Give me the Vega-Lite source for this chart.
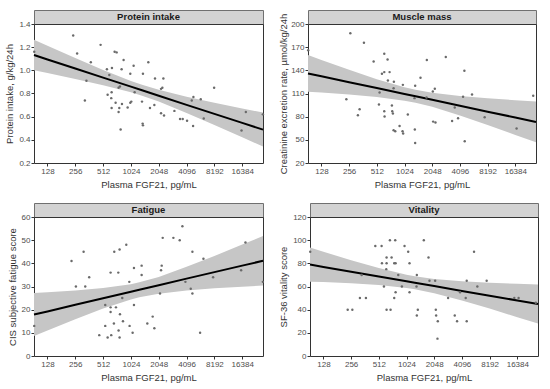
{
  "$schema": "https://vega.github.io/schema/vega-lite/v6.json",
  "padding": {"left": 4, "top": 9, "right": 6, "bottom": 4},
  "background": "white",
  "config": {
    "font": "Liberation Sans",
    "view": {"stroke": "#333333", "strokeWidth": 1},
    "axis": {"grid": false, "domain": false, "tickColor": "#333333", "tickSize": 3, "labelColor": "#4d4d4d", "labelFontSize": 8, "labelPadding": 1, "labelOverlap": false, "labelFlush": false, "titleFontSize": 9.5, "titleFontWeight": "normal", "titleColor": "#333333"},
    "axisX": {"titlePadding": 4},
    "axisY": {"titlePadding": 4}
  },
  "datasets": {
    "protein": [
      {"fgf21": 92, "v": 1.16}, {"fgf21": 243, "v": 1.30}, {"fgf21": 268, "v": 1.145}, {"fgf21": 377, "v": 1.07}, {"fgf21": 338, "v": 0.91}, {"fgf21": 325, "v": 0.74}, {"fgf21": 481, "v": 1.22}, {"fgf21": 682, "v": 1.16}, {"fgf21": 717, "v": 1.155}, {"fgf21": 853, "v": 1.09}, {"fgf21": 563, "v": 1.01}, {"fgf21": 638, "v": 1.02}, {"fgf21": 597, "v": 0.96}, {"fgf21": 812, "v": 1.01}, {"fgf21": 1095, "v": 1.04}, {"fgf21": 1008, "v": 0.97}, {"fgf21": 1382, "v": 0.97}, {"fgf21": 1579, "v": 1.07}, {"fgf21": 1866, "v": 0.93}, {"fgf21": 2298, "v": 0.93}, {"fgf21": 573, "v": 0.79}, {"fgf21": 633, "v": 0.81}, {"fgf21": 627, "v": 0.76}, {"fgf21": 633, "v": 0.675}, {"fgf21": 699, "v": 0.72}, {"fgf21": 753, "v": 0.85}, {"fgf21": 779, "v": 0.86}, {"fgf21": 766, "v": 0.675}, {"fgf21": 819, "v": 0.71}, {"fgf21": 753, "v": 0.64}, {"fgf21": 792, "v": 0.49}, {"fgf21": 943, "v": 0.68}, {"fgf21": 1008, "v": 0.72}, {"fgf21": 1033, "v": 0.73}, {"fgf21": 1123, "v": 0.81}, {"fgf21": 1349, "v": 0.73}, {"fgf21": 1371, "v": 0.54}, {"fgf21": 1382, "v": 0.525}, {"fgf21": 1646, "v": 0.675}, {"fgf21": 1835, "v": 0.70}, {"fgf21": 2168, "v": 0.84}, {"fgf21": 2241, "v": 0.85}, {"fgf21": 2168, "v": 0.63}, {"fgf21": 2336, "v": 0.61}, {"fgf21": 3024, "v": 0.65}, {"fgf21": 3483, "v": 0.58}, {"fgf21": 3722, "v": 0.58}, {"fgf21": 4147, "v": 0.565}, {"fgf21": 4660, "v": 0.74}, {"fgf21": 4858, "v": 0.77}, {"fgf21": 4817, "v": 0.52}, {"fgf21": 5832, "v": 0.75}, {"fgf21": 6287, "v": 0.585}, {"fgf21": 8136, "v": 0.85}, {"fgf21": 16112, "v": 0.48}, {"fgf21": 17940, "v": 0.64}, {"fgf21": 27420, "v": 0.62}
    ],
    "protein_fit": [
      {"fgf21": 91.5, "fit": 1.132, "lo": 1.000, "hi": 1.264}, {"fgf21": 128, "fit": 1.094, "lo": 0.976, "hi": 1.212}, {"fgf21": 256, "fit": 1.016, "lo": 0.926, "hi": 1.106}, {"fgf21": 512, "fit": 0.937, "lo": 0.872, "hi": 1.002}, {"fgf21": 1024, "fit": 0.859, "lo": 0.810, "hi": 0.908}, {"fgf21": 1351, "fit": 0.828, "lo": 0.781, "hi": 0.876}, {"fgf21": 2048, "fit": 0.781, "lo": 0.730, "hi": 0.832}, {"fgf21": 4096, "fit": 0.702, "lo": 0.632, "hi": 0.772}, {"fgf21": 8192, "fit": 0.624, "lo": 0.528, "hi": 0.720}, {"fgf21": 16384, "fit": 0.546, "lo": 0.422, "hi": 0.670}, {"fgf21": 27500, "fit": 0.488, "lo": 0.342, "hi": 0.635}
    ],
    "muscle": [
      {"fgf21": 92, "v": 166}, {"fgf21": 264, "v": 187.9}, {"fgf21": 371, "v": 175.8}, {"fgf21": 239, "v": 102.6}, {"fgf21": 333, "v": 89.7}, {"fgf21": 319, "v": 81.9}, {"fgf21": 473, "v": 151.5}, {"fgf21": 617, "v": 161.5}, {"fgf21": 670, "v": 154.1}, {"fgf21": 582, "v": 135.5}, {"fgf21": 617, "v": 137.7}, {"fgf21": 705, "v": 137.7}, {"fgf21": 676, "v": 126.9}, {"fgf21": 785, "v": 125.1}, {"fgf21": 549, "v": 111.3}, {"fgf21": 540, "v": 95.7}, {"fgf21": 747, "v": 94.4}, {"fgf21": 617, "v": 87.1}, {"fgf21": 622, "v": 80.1}, {"fgf21": 753, "v": 87.1}, {"fgf21": 766, "v": 84.0}, {"fgf21": 779, "v": 116.9}, {"fgf21": 779, "v": 62.4}, {"fgf21": 812, "v": 61.1}, {"fgf21": 905, "v": 68.0}, {"fgf21": 983, "v": 121.2}, {"fgf21": 975, "v": 61.1}, {"fgf21": 990, "v": 58.1}, {"fgf21": 1113, "v": 82.7}, {"fgf21": 1337, "v": 120.0}, {"fgf21": 1315, "v": 104.0}, {"fgf21": 1326, "v": 63.3}, {"fgf21": 1337, "v": 46.0}, {"fgf21": 1528, "v": 130.3}, {"fgf21": 1790, "v": 153.3}, {"fgf21": 1776, "v": 104.8}, {"fgf21": 2080, "v": 112.6}, {"fgf21": 2186, "v": 116.1}, {"fgf21": 2097, "v": 73.6}, {"fgf21": 2222, "v": 72.4}, {"fgf21": 2876, "v": 157.2}, {"fgf21": 3368, "v": 74.5}, {"fgf21": 3600, "v": 91.8}, {"fgf21": 3912, "v": 77.9}, {"fgf21": 4432, "v": 105.7}, {"fgf21": 4582, "v": 139.4}, {"fgf21": 4621, "v": 48.1}, {"fgf21": 5549, "v": 108.7}, {"fgf21": 7611, "v": 79.2}, {"fgf21": 16920, "v": 64.6}, {"fgf21": 25650, "v": 107.0}
    ],
    "muscle_fit": [
      {"fgf21": 91.5, "fit": 136.0, "lo": 112.3, "hi": 159.7}, {"fgf21": 128, "fit": 132.3, "lo": 111.2, "hi": 153.5}, {"fgf21": 256, "fit": 124.7, "lo": 108.6, "hi": 140.7}, {"fgf21": 512, "fit": 117.0, "lo": 105.5, "hi": 128.6}, {"fgf21": 1024, "fit": 109.4, "lo": 100.7, "hi": 118.0}, {"fgf21": 1351, "fit": 106.4, "lo": 98.0, "hi": 114.8}, {"fgf21": 2048, "fit": 101.8, "lo": 92.7, "hi": 110.9}, {"fgf21": 4096, "fit": 94.1, "lo": 81.6, "hi": 106.7}, {"fgf21": 8192, "fit": 86.5, "lo": 69.2, "hi": 103.7}, {"fgf21": 16384, "fit": 78.9, "lo": 56.4, "hi": 101.3}, {"fgf21": 27500, "fit": 73.2, "lo": 46.8, "hi": 99.7}
    ],
    "fatigue": [
      {"fgf21": 92, "v": 13}, {"fgf21": 233, "v": 41}, {"fgf21": 260, "v": 30}, {"fgf21": 315, "v": 45}, {"fgf21": 328, "v": 30}, {"fgf21": 362, "v": 34}, {"fgf21": 465, "v": 9}, {"fgf21": 540, "v": 22}, {"fgf21": 540, "v": 13}, {"fgf21": 573, "v": 8}, {"fgf21": 617, "v": 36}, {"fgf21": 617, "v": 21}, {"fgf21": 617, "v": 19}, {"fgf21": 627, "v": 9}, {"fgf21": 676, "v": 45}, {"fgf21": 670, "v": 14}, {"fgf21": 705, "v": 21}, {"fgf21": 747, "v": 36}, {"fgf21": 772, "v": 46}, {"fgf21": 779, "v": 18}, {"fgf21": 753, "v": 11}, {"fgf21": 772, "v": 8}, {"fgf21": 825, "v": 25}, {"fgf21": 840, "v": 15}, {"fgf21": 912, "v": 48}, {"fgf21": 983, "v": 32}, {"fgf21": 990, "v": 13}, {"fgf21": 1068, "v": 10}, {"fgf21": 1104, "v": 38}, {"fgf21": 1104, "v": 22}, {"fgf21": 1337, "v": 39}, {"fgf21": 1337, "v": 35}, {"fgf21": 1540, "v": 14}, {"fgf21": 1761, "v": 17}, {"fgf21": 1835, "v": 12}, {"fgf21": 2114, "v": 27}, {"fgf21": 2204, "v": 39}, {"fgf21": 2168, "v": 37}, {"fgf21": 2260, "v": 51}, {"fgf21": 2949, "v": 51}, {"fgf21": 3453, "v": 50}, {"fgf21": 3691, "v": 56}, {"fgf21": 3979, "v": 32}, {"fgf21": 4545, "v": 29}, {"fgf21": 4737, "v": 27}, {"fgf21": 4737, "v": 45}, {"fgf21": 5737, "v": 10}, {"fgf21": 6234, "v": 42}, {"fgf21": 7936, "v": 34}, {"fgf21": 15950, "v": 37}, {"fgf21": 17770, "v": 49}, {"fgf21": 27420, "v": 32}
    ],
    "fatigue_fit": [
      {"fgf21": 91.5, "fit": 17.9, "lo": 8.6, "hi": 27.2}, {"fgf21": 128, "fit": 19.25, "lo": 11.0, "hi": 27.5}, {"fgf21": 256, "fit": 22.1, "lo": 15.9, "hi": 28.3}, {"fgf21": 512, "fit": 24.9, "lo": 20.5, "hi": 29.3}, {"fgf21": 1024, "fit": 27.7, "lo": 24.4, "hi": 31.0}, {"fgf21": 1261, "fit": 28.6, "lo": 25.4, "hi": 31.8}, {"fgf21": 2048, "fit": 30.5, "lo": 26.9, "hi": 34.1}, {"fgf21": 4096, "fit": 33.4, "lo": 28.3, "hi": 38.5}, {"fgf21": 8192, "fit": 36.2, "lo": 29.2, "hi": 43.2}, {"fgf21": 16384, "fit": 39.0, "lo": 29.9, "hi": 48.1}, {"fgf21": 27500, "fit": 41.1, "lo": 30.4, "hi": 51.8}
    ],
    "vitality": [
      {"fgf21": 92, "v": 90}, {"fgf21": 235, "v": 40}, {"fgf21": 264, "v": 40}, {"fgf21": 319, "v": 50}, {"fgf21": 333, "v": 70}, {"fgf21": 371, "v": 50}, {"fgf21": 469, "v": 95}, {"fgf21": 549, "v": 95}, {"fgf21": 554, "v": 80}, {"fgf21": 582, "v": 60}, {"fgf21": 622, "v": 85}, {"fgf21": 622, "v": 80}, {"fgf21": 617, "v": 75}, {"fgf21": 622, "v": 40}, {"fgf21": 676, "v": 100}, {"fgf21": 687, "v": 40}, {"fgf21": 705, "v": 85}, {"fgf21": 753, "v": 80}, {"fgf21": 779, "v": 80}, {"fgf21": 772, "v": 100}, {"fgf21": 753, "v": 50}, {"fgf21": 779, "v": 55}, {"fgf21": 833, "v": 70}, {"fgf21": 912, "v": 60}, {"fgf21": 975, "v": 95}, {"fgf21": 1068, "v": 90}, {"fgf21": 1104, "v": 80}, {"fgf21": 1104, "v": 55}, {"fgf21": 1326, "v": 70}, {"fgf21": 1315, "v": 60}, {"fgf21": 1359, "v": 40}, {"fgf21": 1326, "v": 35}, {"fgf21": 1579, "v": 100}, {"fgf21": 1776, "v": 85}, {"fgf21": 1820, "v": 65}, {"fgf21": 2097, "v": 65}, {"fgf21": 2132, "v": 40}, {"fgf21": 2150, "v": 35}, {"fgf21": 2241, "v": 30}, {"fgf21": 2222, "v": 15}, {"fgf21": 2900, "v": 50}, {"fgf21": 3426, "v": 35}, {"fgf21": 3629, "v": 30}, {"fgf21": 3912, "v": 55}, {"fgf21": 4507, "v": 50}, {"fgf21": 4621, "v": 65}, {"fgf21": 4621, "v": 30}, {"fgf21": 5549, "v": 90}, {"fgf21": 6029, "v": 60}, {"fgf21": 7611, "v": 65}, {"fgf21": 15190, "v": 50}, {"fgf21": 16920, "v": 50}, {"fgf21": 26060, "v": 46}
    ],
    "vitality_fit": [
      {"fgf21": 91.5, "fit": 78.9, "lo": 64.2, "hi": 93.6}, {"fgf21": 128, "fit": 76.9, "lo": 63.8, "hi": 90.0}, {"fgf21": 256, "fit": 72.8, "lo": 62.8, "hi": 82.7}, {"fgf21": 512, "fit": 68.6, "lo": 61.4, "hi": 75.9}, {"fgf21": 1024, "fit": 64.5, "lo": 58.8, "hi": 70.2}, {"fgf21": 1261, "fit": 63.3, "lo": 57.7, "hi": 68.9}, {"fgf21": 2048, "fit": 60.4, "lo": 54.2, "hi": 66.5}, {"fgf21": 4096, "fit": 56.2, "lo": 47.9, "hi": 64.5}, {"fgf21": 8192, "fit": 52.1, "lo": 40.9, "hi": 63.3}, {"fgf21": 16384, "fit": 47.9, "lo": 33.5, "hi": 62.3}, {"fgf21": 27500, "fit": 44.9, "lo": 28.0, "hi": 61.8}
    ]
  },
  "vconcat": [
    {
      "hconcat": [
        {
          "vconcat": [
            {"width": 229, "height": 14, "data": {"values": [{"t": "Protein intake"}]}, "mark": {"type": "text", "fontWeight": "bold", "fontSize": 9.5, "color": "#1a1a1a"}, "encoding": {"text": {"field": "t"}}, "view": {"fill": "#d3d3d3", "stroke": "#707070"}},
            {"width": 229, "height": 139, "layer": [
              {"data": {"name": "protein_fit"}, "mark": {"type": "area", "color": "#c6c6c6", "opacity": 1}, "encoding": {"x": {"field": "fgf21", "type": "quantitative", "title": "Plasma FGF21, pg/mL", "scale": {"type": "log", "base": 2, "domain": [91.5, 27500], "nice": false}, "axis": {"values": [128, 256, 512, 1024, 2048, 4096, 8192, 16384], "format": "d", "labelOverlap": false}}, "y": {"field": "lo", "type": "quantitative", "title": "Protein intake, g/kg/24h", "scale": {"domain": [0.2, 1.4], "nice": false}, "axis": {"values": [0.2, 0.4, 0.6, 0.8, 1.0, 1.2, 1.4], "format": ".1f", "labelOverlap": false}}, "y2": {"field": "hi"}}},
              {"data": {"name": "protein_fit"}, "mark": {"type": "line", "color": "#000000", "strokeWidth": 2}, "encoding": {"x": {"field": "fgf21", "type": "quantitative", "title": "Plasma FGF21, pg/mL", "scale": {"type": "log", "base": 2, "domain": [91.5, 27500], "nice": false}, "axis": {"values": [128, 256, 512, 1024, 2048, 4096, 8192, 16384], "format": "d", "labelOverlap": false}}, "y": {"field": "fit", "type": "quantitative", "title": "Protein intake, g/kg/24h", "scale": {"domain": [0.2, 1.4], "nice": false}, "axis": {"values": [0.2, 0.4, 0.6, 0.8, 1.0, 1.2, 1.4], "format": ".1f", "labelOverlap": false}}}},
              {"data": {"name": "protein"}, "mark": {"type": "circle", "size": 6, "color": "#6a6a6a", "opacity": 1}, "encoding": {"x": {"field": "fgf21", "type": "quantitative", "title": "Plasma FGF21, pg/mL", "scale": {"type": "log", "base": 2, "domain": [91.5, 27500], "nice": false}, "axis": {"values": [128, 256, 512, 1024, 2048, 4096, 8192, 16384], "format": "d", "labelOverlap": false}}, "y": {"field": "v", "type": "quantitative", "title": "Protein intake, g/kg/24h", "scale": {"domain": [0.2, 1.4], "nice": false}, "axis": {"values": [0.2, 0.4, 0.6, 0.8, 1.0, 1.2, 1.4], "format": ".1f", "labelOverlap": false}}}}
            ]}
          ],
          "spacing": 0, "bounds": "flush"
        },
        {
          "vconcat": [
            {"width": 228, "height": 14, "data": {"values": [{"t": "Muscle mass"}]}, "mark": {"type": "text", "fontWeight": "bold", "fontSize": 9.5, "color": "#1a1a1a"}, "encoding": {"text": {"field": "t"}}, "view": {"fill": "#d3d3d3", "stroke": "#707070"}},
            {"width": 228, "height": 139, "layer": [
              {"data": {"name": "muscle_fit"}, "mark": {"type": "area", "color": "#c6c6c6", "opacity": 1}, "encoding": {"x": {"field": "fgf21", "type": "quantitative", "title": "Plasma FGF21, pg/mL", "scale": {"type": "log", "base": 2, "domain": [91.5, 27500], "nice": false}, "axis": {"values": [128, 256, 512, 1024, 2048, 4096, 8192, 16384], "format": "d", "labelOverlap": false}}, "y": {"field": "lo", "type": "quantitative", "title": "Creatinine excretion rate, µmol/kg/24h", "scale": {"domain": [20, 200], "nice": false}, "axis": {"values": [20, 50, 80, 110, 140, 170, 200], "titlePadding": 2, "labelOverlap": false}}, "y2": {"field": "hi"}}},
              {"data": {"name": "muscle_fit"}, "mark": {"type": "line", "color": "#000000", "strokeWidth": 2}, "encoding": {"x": {"field": "fgf21", "type": "quantitative", "title": "Plasma FGF21, pg/mL", "scale": {"type": "log", "base": 2, "domain": [91.5, 27500], "nice": false}, "axis": {"values": [128, 256, 512, 1024, 2048, 4096, 8192, 16384], "format": "d", "labelOverlap": false}}, "y": {"field": "fit", "type": "quantitative", "title": "Creatinine excretion rate, µmol/kg/24h", "scale": {"domain": [20, 200], "nice": false}, "axis": {"values": [20, 50, 80, 110, 140, 170, 200], "titlePadding": 2, "labelOverlap": false}}}},
              {"data": {"name": "muscle"}, "mark": {"type": "circle", "size": 6, "color": "#6a6a6a", "opacity": 1}, "encoding": {"x": {"field": "fgf21", "type": "quantitative", "title": "Plasma FGF21, pg/mL", "scale": {"type": "log", "base": 2, "domain": [91.5, 27500], "nice": false}, "axis": {"values": [128, 256, 512, 1024, 2048, 4096, 8192, 16384], "format": "d", "labelOverlap": false}}, "y": {"field": "v", "type": "quantitative", "title": "Creatinine excretion rate, µmol/kg/24h", "scale": {"domain": [20, 200], "nice": false}, "axis": {"values": [20, 50, 80, 110, 140, 170, 200], "titlePadding": 2, "labelOverlap": false}}}}
            ]}
          ],
          "spacing": 0, "bounds": "flush"
        }
      ],
      "spacing": 10
    },
    {
      "hconcat": [
        {
          "vconcat": [
            {"width": 229, "height": 14, "data": {"values": [{"t": "Fatigue"}]}, "mark": {"type": "text", "fontWeight": "bold", "fontSize": 9.5, "color": "#1a1a1a"}, "encoding": {"text": {"field": "t"}}, "view": {"fill": "#d3d3d3", "stroke": "#707070"}},
            {"width": 229, "height": 139, "layer": [
              {"data": {"name": "fatigue_fit"}, "mark": {"type": "area", "color": "#c6c6c6", "opacity": 1}, "encoding": {"x": {"field": "fgf21", "type": "quantitative", "title": "Plasma FGF21, pg/mL", "scale": {"type": "log", "base": 2, "domain": [91.5, 27500], "nice": false}, "axis": {"values": [128, 256, 512, 1024, 2048, 4096, 8192, 16384], "format": "d", "labelOverlap": false}}, "y": {"field": "lo", "type": "quantitative", "title": "CIS subjective fatigue score", "scale": {"domain": [0, 60], "nice": false}, "axis": {"values": [0, 10, 20, 30, 40, 50, 60], "labelOverlap": false}}, "y2": {"field": "hi"}}},
              {"data": {"name": "fatigue_fit"}, "mark": {"type": "line", "color": "#000000", "strokeWidth": 2}, "encoding": {"x": {"field": "fgf21", "type": "quantitative", "title": "Plasma FGF21, pg/mL", "scale": {"type": "log", "base": 2, "domain": [91.5, 27500], "nice": false}, "axis": {"values": [128, 256, 512, 1024, 2048, 4096, 8192, 16384], "format": "d", "labelOverlap": false}}, "y": {"field": "fit", "type": "quantitative", "title": "CIS subjective fatigue score", "scale": {"domain": [0, 60], "nice": false}, "axis": {"values": [0, 10, 20, 30, 40, 50, 60], "labelOverlap": false}}}},
              {"data": {"name": "fatigue"}, "mark": {"type": "circle", "size": 6, "color": "#6a6a6a", "opacity": 1}, "encoding": {"x": {"field": "fgf21", "type": "quantitative", "title": "Plasma FGF21, pg/mL", "scale": {"type": "log", "base": 2, "domain": [91.5, 27500], "nice": false}, "axis": {"values": [128, 256, 512, 1024, 2048, 4096, 8192, 16384], "format": "d", "labelOverlap": false}}, "y": {"field": "v", "type": "quantitative", "title": "CIS subjective fatigue score", "scale": {"domain": [0, 60], "nice": false}, "axis": {"values": [0, 10, 20, 30, 40, 50, 60], "labelOverlap": false}}}}
            ]}
          ],
          "spacing": 0, "bounds": "flush"
        },
        {
          "vconcat": [
            {"width": 228, "height": 14, "data": {"values": [{"t": "Vitality"}]}, "mark": {"type": "text", "fontWeight": "bold", "fontSize": 9.5, "color": "#1a1a1a"}, "encoding": {"text": {"field": "t"}}, "view": {"fill": "#d3d3d3", "stroke": "#707070"}},
            {"width": 228, "height": 139, "layer": [
              {"data": {"name": "vitality_fit"}, "mark": {"type": "area", "color": "#c6c6c6", "opacity": 1}, "encoding": {"x": {"field": "fgf21", "type": "quantitative", "title": "Plasma FGF21, pg/mL", "scale": {"type": "log", "base": 2, "domain": [91.5, 27500], "nice": false}, "axis": {"values": [128, 256, 512, 1024, 2048, 4096, 8192, 16384], "format": "d", "labelOverlap": false}}, "y": {"field": "lo", "type": "quantitative", "title": "SF-36 vitality score", "scale": {"domain": [0, 120], "nice": false}, "axis": {"values": [0, 20, 40, 60, 80, 100, 120], "labelOverlap": false}}, "y2": {"field": "hi"}}},
              {"data": {"name": "vitality_fit"}, "mark": {"type": "line", "color": "#000000", "strokeWidth": 2}, "encoding": {"x": {"field": "fgf21", "type": "quantitative", "title": "Plasma FGF21, pg/mL", "scale": {"type": "log", "base": 2, "domain": [91.5, 27500], "nice": false}, "axis": {"values": [128, 256, 512, 1024, 2048, 4096, 8192, 16384], "format": "d", "labelOverlap": false}}, "y": {"field": "fit", "type": "quantitative", "title": "SF-36 vitality score", "scale": {"domain": [0, 120], "nice": false}, "axis": {"values": [0, 20, 40, 60, 80, 100, 120], "labelOverlap": false}}}},
              {"data": {"name": "vitality"}, "mark": {"type": "circle", "size": 6, "color": "#6a6a6a", "opacity": 1}, "encoding": {"x": {"field": "fgf21", "type": "quantitative", "title": "Plasma FGF21, pg/mL", "scale": {"type": "log", "base": 2, "domain": [91.5, 27500], "nice": false}, "axis": {"values": [128, 256, 512, 1024, 2048, 4096, 8192, 16384], "format": "d", "labelOverlap": false}}, "y": {"field": "v", "type": "quantitative", "title": "SF-36 vitality score", "scale": {"domain": [0, 120], "nice": false}, "axis": {"values": [0, 20, 40, 60, 80, 100, 120], "labelOverlap": false}}}}
            ]}
          ],
          "spacing": 0, "bounds": "flush"
        }
      ],
      "spacing": 10
    }
  ],
  "spacing": 13
}
